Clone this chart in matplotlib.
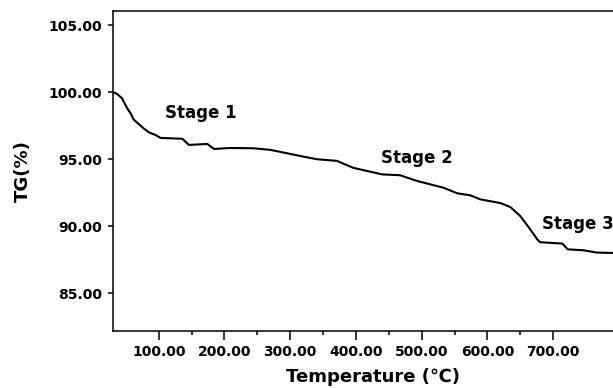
#!/usr/bin/env python3
"""
TG curve (weight loss vs temperature) with the three decomposition stages.
"""

import matplotlib as mpl
mpl.use('Agg')
import matplotlib.pyplot as plt
from matplotlib.ticker import FixedLocator

# traced curve: temperature (C) and remaining mass (%)
temperature = [31, 37, 44, 52, 57, 62, 70, 77, 85, 95, 103, 136, 146, 174,
               184, 209, 244, 270, 295, 325, 341, 371, 396, 440, 467, 493,
               533, 554, 574, 589, 620, 635, 650, 663, 676, 680, 714, 722,
               746, 766, 791]
tg = [100.0, 99.85, 99.55, 98.8, 98.44, 97.95, 97.6, 97.3, 97.0, 96.8,
      96.58, 96.52, 96.06, 96.13, 95.76, 95.83, 95.81, 95.69, 95.44, 95.14,
      94.99, 94.87, 94.35, 93.86, 93.8, 93.37, 92.87, 92.45, 92.3, 92.0,
      91.72, 91.42, 90.75, 89.9, 89.0, 88.8, 88.7, 88.27, 88.2, 88.03, 88.0]

xticks = [100, 200, 300, 400, 500, 600, 700]
xminor = [150, 250, 350, 450, 550, 650]
yticks = [85, 90, 95, 100, 105]

stage_names = ['Stage 1', 'Stage 2', 'Stage 3']
stage_x = [110, 438, 683]
stage_y = [98.45, 95.07, 90.17]

mpl.rcParams.update({'font.family': 'DejaVu Sans', 'font.weight': 'bold',
                     'axes.linewidth': 1.1})

fig = plt.figure(figsize=(6.13, 3.88), dpi=100)
ax = fig.add_axes([0.1838, 0.1477, 1.0 - 0.1838, 0.9716 - 0.1477])

ax.plot(temperature, tg, color='black', lw=1.5)

for name, sx, sy in zip(stage_names, stage_x, stage_y):
  ax.text(sx, sy, name, fontsize=12, fontweight='bold', va='center', ha='left')

ax.set_xlim(30, 791)
ax.set_ylim(82.2, 106.05)
ax.set_xticks(xticks)
ax.set_xticklabels(['%.2f' % t for t in xticks])
ax.xaxis.set_minor_locator(FixedLocator(xminor))
ax.set_yticks(yticks)
ax.set_yticklabels(['%.2f' % t for t in yticks])

ax.tick_params(axis='x', which='major', direction='out', length=6.2, width=1.1,
               pad=4, labelsize=10)
ax.tick_params(axis='x', which='minor', direction='out', length=3, width=1.1)
ax.tick_params(axis='y', which='major', direction='out', length=3.5, width=1.1,
               pad=4, labelsize=10)
for lab in ax.get_xticklabels() + ax.get_yticklabels():
  lab.set_fontweight('bold')

ax.spines['right'].set_visible(False)

ax.set_xlabel('Temperature (\u2103)', fontsize=13, fontweight='bold')
ax.xaxis.set_label_coords(0.52, -0.118)
ax.set_ylabel('TG(%)', fontsize=13, fontweight='bold')
ax.yaxis.set_label_coords(-0.162, 0.5)

fig.savefig('out.png', dpi=100)
